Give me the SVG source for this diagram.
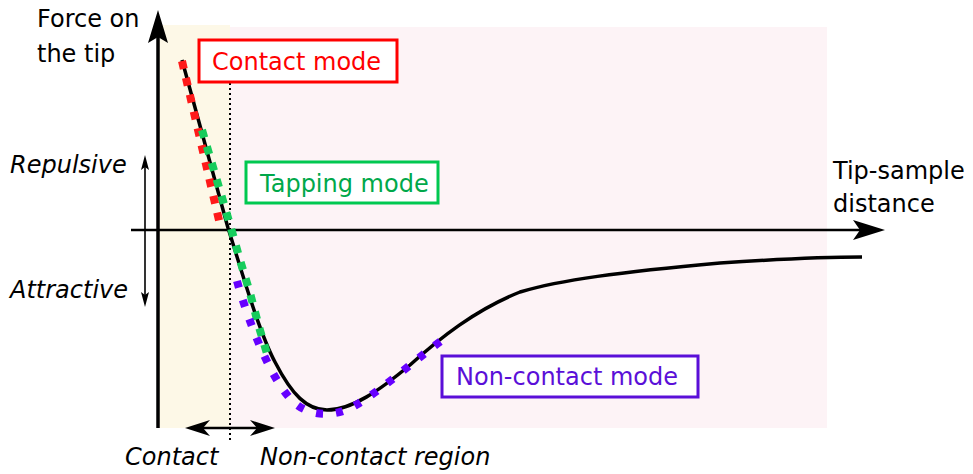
<svg xmlns="http://www.w3.org/2000/svg" width="973" height="474" viewBox="0 0 973 474">
<style>
text{font-family:"DejaVu Sans","Verdana",sans-serif;font-size:24px;fill:#000}
.it{font-style:italic}
.box{fill:#fff;stroke-width:3}
.dot{fill:none;stroke-width:8}
</style>
<rect width="973" height="474" fill="#fff"/>
<g id="regions">
<rect x="159" y="25" width="71" height="403" fill="#fdf8e7"/>
<rect x="230" y="27" width="597" height="401" fill="#fdf3f6"/>
</g>
<g id="connectors">
<line x1="158" y1="428" x2="158" y2="30" stroke="#000" stroke-width="3.5"/>
<path d="M158,10 L168,43 L158,37 L148,43 Z" fill="#000"/>
<line x1="131" y1="230" x2="865" y2="230" stroke="#000" stroke-width="2.5"/>
<path d="M885,230 L853,220 L860,230 L853,240 Z" fill="#000"/>
<line x1="230" y1="83" x2="230" y2="440" stroke="#000" stroke-width="2" stroke-dasharray="2 3"/>
<line x1="145" y1="165" x2="145" y2="297" stroke="#000" stroke-width="1.6"/>
<path d="M145,155 L149,170 L145,167 L141,170 Z" fill="#000"/>
<path d="M145,307 L149,292 L145,295 L141,292 Z" fill="#000"/>
<line x1="200" y1="428" x2="260" y2="428" stroke="#000" stroke-width="2.5"/>
<path d="M185,428 L210,420 L203,428 L210,436 Z" fill="#000"/>
<path d="M275,428 L250,420 L257,428 L250,436 Z" fill="#000"/>
</g>
<g id="curve">
<path d="M182,60 L228,228 C240,265 258,330 275,362 C292,395 307,410 327,410 C352,410 380,390 410,365 C440,338 475,310 520,292 C560,280 620,272 720,263 C780,259 820,257 862,257" fill="none" stroke="#000" stroke-width="3.5"/>
<path class="dot" d="M182,61 L221,229" stroke="#ff1a1a" stroke-dasharray="8 9.3"/>
<path class="dot" d="M202,130 L231,228 L240,260 L250,293 L259,327 L268,357" stroke="#17cc5c" stroke-dasharray="8 9.2"/>
<path class="dot" d="M237,281 C248,320 268,372 288,396 C305,418 335,418 356,405 C385,388 420,355 447,337" stroke="#6600ff" stroke-dasharray="7 13"/>
</g>
<g id="contact-mode">
<rect class="box" x="199" y="40" width="198" height="42" stroke="#ff0000"/>
<text x="212" y="70" style="fill:#ff0000">Contact mode</text>
</g>
<g id="tapping-mode">
<rect class="box" x="246" y="162" width="192" height="41" stroke="#00c850"/>
<text x="260" y="192" style="fill:#00a84a">Tapping mode</text>
</g>
<g id="noncontact-mode">
<rect class="box" x="442" y="356" width="256" height="41" stroke="#5a0fd8"/>
<text x="456" y="385" style="fill:#5a0fd8">Non-contact mode</text>
</g>
<g id="labels">
<text x="37" y="27">Force on</text>
<text x="37" y="62">the tip</text>
<text x="833" y="179">Tip-sample</text>
<text x="833" y="212">distance</text>
<text class="it" x="10" y="173">Repulsive</text>
<text class="it" x="10" y="298">Attractive</text>
<text class="it" x="125" y="465">Contact</text>
<text class="it" x="260" y="465">Non-contact region</text>
</g>
</svg>
